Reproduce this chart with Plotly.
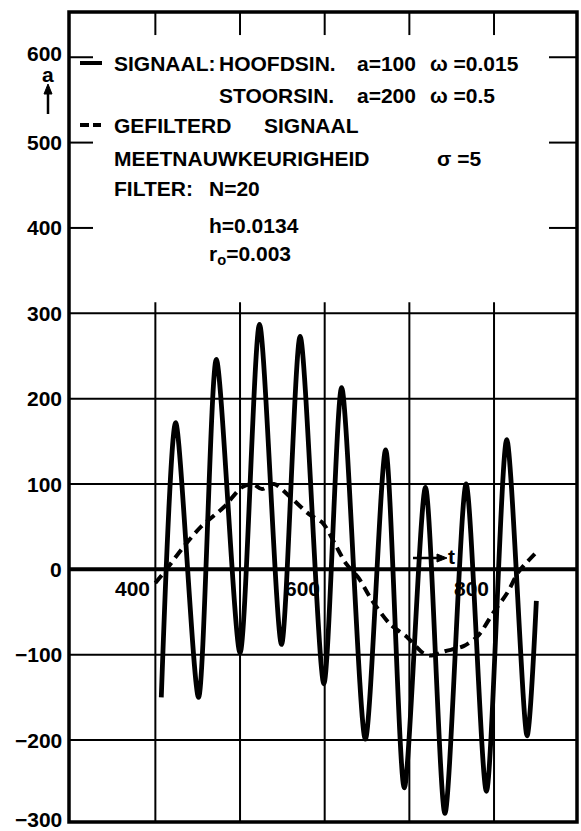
import plotly.graph_objects as go

# ---------------- data ----------------
signal_t = [407, 424, 451, 472, 500, 523, 549, 571, 599, 620, 648, 672, 694, 719, 742, 767, 791, 815, 839, 850]
signal_a = [-150, 172, -150, 246, -98, 287, -88, 273, -134, 213, -199, 140, -256, 96, -286, 100, -260, 152, -195, -37]

filtered_t = [400, 413, 433, 454, 481, 502, 515, 526, 540, 559, 581, 598, 612, 625, 640, 655, 677, 698, 716, 725, 742, 764, 781, 799, 816, 829, 852]
filtered_a = [-16, 0, 26, 50, 73, 96, 100, 94, 100, 85, 65, 54, 30, 7, -10, -35, -64, -80, -98, -101, -96, -90, -78, -51, -27, -3, 22]

x_grid = [400, 500, 600, 700, 800]
x_tick_labels = ["400", "600", "800"]
x_tick_vals = [400, 600, 800]
y_grid_full = [-200, -100, 100, 200, 300]
y_grid_stub = [400, 500, 600]
y_tick_vals = [-300, -200, -100, 0, 100, 200, 300, 400, 500, 600]
y_tick_labels = ["\u2212300", "\u2212200", "\u2212100", "0", "100", "200", "300", "400", "500", "600"]

# ---------------- layout geometry ----------------
W, H = 581, 831
X0, X1, Y0, Y1 = 69, 577, 12, 822
XR = [298, 898]
YR = [-296, 653]
FONT = "Liberation Sans, Arial, sans-serif"


def px_x(p):
    return (p - X0) / (X1 - X0)


def px_y(p):
    return (Y1 - p) / (Y1 - Y0)


def data_to_paper_y(v):
    return (v - YR[0]) / (YR[1] - YR[0])


fig = go.Figure()
fig.add_trace(go.Scatter(x=signal_t, y=signal_a, mode="lines",
                         line=dict(color="black", width=4.8, shape="spline", smoothing=0.75),
                         hoverinfo="skip", showlegend=False))
fig.add_trace(go.Scatter(x=filtered_t, y=filtered_a, mode="lines",
                         line=dict(color="black", width=4, dash="10px,6px", shape="spline", smoothing=0.8),
                         hoverinfo="skip", showlegend=False))

shapes = []
# vertical grid lines (bottom up to just above 300) and top stubs
for xv in x_grid:
    shapes.append(dict(type="line", xref="x", yref="y", x0=xv, x1=xv, y0=YR[0], y1=313,
                       line=dict(color="black", width=2)))
    shapes.append(dict(type="line", xref="x", yref="y", x0=xv, x1=xv, y0=626, y1=YR[1],
                       line=dict(color="black", width=2)))
# horizontal full grid lines
for yv in y_grid_full:
    shapes.append(dict(type="line", xref="paper", yref="y", x0=0, x1=1, y0=yv, y1=yv,
                       line=dict(color="black", width=2)))
# zero line (thicker)
shapes.append(dict(type="line", xref="paper", yref="y", x0=0, x1=1, y0=0, y1=0,
                   line=dict(color="black", width=4)))
# stubs at 400..600
for yv in y_grid_stub:
    shapes.append(dict(type="line", xref="paper", yref="y", x0=0, x1=px_x(93), y0=yv, y1=yv,
                       line=dict(color="black", width=2)))
    shapes.append(dict(type="line", xref="paper", yref="y", x0=px_x(549), x1=1, y0=yv, y1=yv,
                       line=dict(color="black", width=2)))
# frame
shapes.append(dict(type="rect", xref="paper", yref="paper", x0=0, x1=1, y0=0, y1=1,
                   line=dict(color="black", width=3.5)))
# legend line samples
shapes.append(dict(type="line", xref="paper", yref="paper", x0=px_x(80), x1=px_x(102),
                   y0=px_y(63), y1=px_y(63), line=dict(color="black", width=4)))
shapes.append(dict(type="line", xref="paper", yref="paper", x0=px_x(80), x1=px_x(89),
                   y0=px_y(125), y1=px_y(125), line=dict(color="black", width=4)))
shapes.append(dict(type="line", xref="paper", yref="paper", x0=px_x(93), x1=px_x(101),
                   y0=px_y(125), y1=px_y(125), line=dict(color="black", width=4)))

# arrow for the 'a' axis (pointing up)
shapes.append(dict(type="line", xref="paper", yref="paper", x0=px_x(48), x1=px_x(48),
                   y0=px_y(114), y1=px_y(92), line=dict(color="black", width=2.5)))
shapes.append(dict(type="path", xref="paper", yref="paper",
                   path="M {a},{b} L {c},{d} L {e},{f} Z".format(
                       a=px_x(44), b=px_y(94), c=px_x(48), d=px_y(84), e=px_x(52), f=px_y(94)),
                   fillcolor="black", line=dict(color="black", width=1)))
# arrow for the 't' axis (pointing right)
shapes.append(dict(type="line", xref="paper", yref="paper", x0=px_x(413), x1=px_x(440),
                   y0=px_y(558), y1=px_y(558), line=dict(color="black", width=2.5)))
shapes.append(dict(type="path", xref="paper", yref="paper",
                   path="M {a},{b} L {c},{d} L {e},{f} Z".format(
                       a=px_x(437), b=px_y(554), c=px_x(447), d=px_y(558), e=px_x(437), f=px_y(562)),
                   fillcolor="black", line=dict(color="black", width=1)))

annotations = []
fnt = dict(family=FONT, size=21, color="black", weight="bold")

# y tick labels
for v, t in zip(y_tick_vals, y_tick_labels):
    shift = 4 if v == 600 else (6 if v == -300 else 0)
    annotations.append(dict(x=0, xref="paper", y=data_to_paper_y(v), yref="paper", text=t,
                            showarrow=False, xanchor="right", yanchor="middle", xshift=-5,
                            yshift=shift, font=fnt))
# x tick labels (on the zero line, left of grid lines)
for v, t in zip(x_tick_vals, x_tick_labels):
    annotations.append(dict(x=v, xref="x", y=0, yref="y", text=t, showarrow=False,
                            xanchor="right", yanchor="middle", xshift=-3, yshift=-19, font=fnt))

# axis names
annotations.append(dict(x=px_x(48), xref="paper", y=px_y(75), yref="paper", text="a",
                        showarrow=False, xanchor="center", yanchor="middle", font=fnt))
annotations.append(dict(x=px_x(451), xref="paper", y=px_y(556), yref="paper", text="t",
                        showarrow=False, xanchor="center", yanchor="middle", font=fnt))

# legend / parameter text
texts = [
    ("SIGNAAL:", 112, 63), ("HOOFDSIN.", 217, 63), ("a=100", 355, 63), ("\u03c9 =0.015", 428, 63),
    ("STOORSIN.", 217, 95), ("a=200", 355, 95), ("\u03c9 =0.5", 428, 95),
    ("GEFILTERD", 112, 125), ("SIGNAAL", 262, 125),
    ("MEETNAUWKEURIGHEID", 112, 158), ("\u03c3 =5", 435, 158),
    ("FILTER:", 112, 188), ("N=20", 207, 188),
    ("h=0.0134", 207, 225),
    ("r<sub>o</sub>=0.003", 207, 255),
]
for t, xp, yp in texts:
    annotations.append(dict(x=px_x(xp), xref="paper", y=px_y(yp), yref="paper", text=t,
                            showarrow=False, xanchor="left", yanchor="middle", font=fnt))

fig.update_layout(
    width=W, height=H,
    margin=dict(l=X0, r=W - X1, t=Y0, b=H - Y1, pad=0),
    paper_bgcolor="white", plot_bgcolor="white",
    xaxis=dict(range=XR, showgrid=False, zeroline=False, showline=False,
               showticklabels=False, ticks=""),
    yaxis=dict(range=YR, showgrid=False, zeroline=False, showline=False,
               showticklabels=False, ticks=""),
    shapes=shapes, annotations=annotations, showlegend=False,
)

fig.write_html("out.html")
